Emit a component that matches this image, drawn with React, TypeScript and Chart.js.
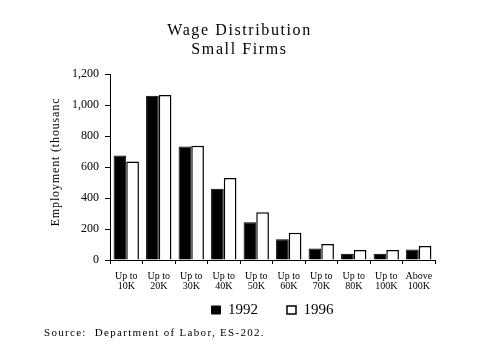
import React, { useEffect, useRef } from "react";
import { Chart, registerables } from "chart.js";

Chart.register(...registerables);

const categories: string[][] = [
  ["Up to", "10K"], ["Up to", "20K"], ["Up to", "30K"], ["Up to", "40K"], ["Up to", "50K"],
  ["Up to", "60K"], ["Up to", "70K"], ["Up to", "80K"], ["Up to", "100K"], ["Above", "100K"],
];
const values1992 = [674, 1060, 733, 459, 244, 134, 74, 41, 41, 67];
const values1996 = [635, 1065, 737, 529, 308, 176, 104, 65, 65, 91];
const yTicks = [0, 200, 400, 600, 800, 1000, 1200];
const titleLines = ["Wage Distribution", "Small Firms"];
const sourceText = "Source:  Department of Labor, ES-202.";
const yTitle = "Employment (thousanc";

const SERIF = "'Liberation Serif', 'DejaVu Serif', serif";

function withSpacing(ctx: any, sp: number, fn: () => void, dy = 0) {
  ctx.save();
  ctx.letterSpacing = sp + "px";
  if (dy) ctx.translate(0, dy);
  fn();
  ctx.restore();
}

const spacingPlugin = {
  id: "letterSpacingPatch",
  afterLayout(chart: any) {
    const ctx = chart.ctx;
    chart.boxes.forEach((box: any) => {
      if (box.__patched) return;
      const text = box.options && box.options.text;
      if (Array.isArray(text) && text[0] === titleLines[0]) {
        const orig = box.draw.bind(box);
        box.draw = (a: any) => withSpacing(ctx, 1.6, () => orig(a));
        box.__patched = true;
      } else if (text === sourceText) {
        const orig = box.draw.bind(box);
        box.draw = (a: any) => withSpacing(ctx, 1.3, () => orig(a));
        box.__patched = true;
      } else if (box.id === "y") {
        const orig = box.drawTitle.bind(box);
        box.drawTitle = () => withSpacing(ctx, 0.85, () => orig(), -5);
        box.__patched = true;
      }
    });
    // let the legend start higher so its wide item padding does not push it down
    if (chart.legend) chart.legend.top -= 17.5;
  },
};

export default function App() {
  const ref = useRef<HTMLCanvasElement | null>(null);
  useEffect(() => {
    if (!ref.current) return;
    const chart = new Chart(ref.current, {
      type: "bar",
      data: {
        labels: categories,
        datasets: [
          { label: "1992", data: values1992, backgroundColor: "#000", borderColor: "#000", borderWidth: 1 },
          { label: "1996", data: values1996, backgroundColor: "#fff", borderColor: "#000", borderWidth: 1.5 },
        ],
      },
      plugins: [spacingPlugin],
      options: {
        animation: false,
        responsive: false,
        maintainAspectRatio: false,
        layout: { padding: { left: 44, right: 44, top: 14, bottom: 19.4 } },
        datasets: { bar: { categoryPercentage: 0.78, barPercentage: 1 } },
        scales: {
          x: {
            afterFit: (s: any) => { s.height = 31; },
            grid: { display: true, drawOnChartArea: false, tickLength: 4, color: "#000", offset: true },
            border: { color: "#000", width: 1 },
            ticks: {
              color: "#000",
              font: { family: SERIF, size: 10, lineHeight: 1 },
              maxRotation: 0,
              autoSkip: false,
              padding: 7.5,
            },
          },
          y: {
            min: 0,
            max: 1200,
            afterBuildTicks: (s: any) => { s.ticks = yTicks.map((v) => ({ value: v })); },
            afterFit: (s: any) => { s.width = 66; },
            grid: { display: true, drawOnChartArea: false, tickLength: 5, color: "#000" },
            border: { color: "#000", width: 1 },
            ticks: {
              color: "#000",
              font: { family: SERIF, size: 12 },
              padding: 6,
              callback: (v: any) => Number(v).toLocaleString("en-US"),
            },
            title: {
              display: true,
              text: yTitle,
              color: "#000",
              font: { family: SERIF, size: 12 },
              padding: { top: 5, bottom: 0 },
            },
          },
        },
        plugins: {
          title: {
            display: true,
            text: titleLines,
            color: "#000",
            font: { family: SERIF, size: 16, weight: "normal", lineHeight: 1.2 },
            padding: { top: 7, bottom: 14.6 },
          },
          subtitle: {
            display: true,
            position: "bottom",
            align: "start",
            text: sourceText,
            color: "#000",
            font: { family: SERIF, size: 11, weight: "normal", lineHeight: 1.2 },
            padding: { top: 0, bottom: 0 },
          },
          legend: {
            position: "bottom",
            fullSize: false,
            maxHeight: 35.4,
            labels: {
              color: "#000",
              boxWidth: 9,
              boxHeight: 8,
              padding: 29,
              font: { family: SERIF, size: 15 },
            },
          },
          tooltip: { enabled: false },
        },
      },
    });
    return () => chart.destroy();
  }, []);
  return (
    <div style={{ position: "fixed", left: 0, top: 0, width: 479, height: 359, background: "#fff" }}>
      <canvas ref={ref} width={479} height={359} style={{ width: 479, height: 359 }} />
    </div>
  );
}
